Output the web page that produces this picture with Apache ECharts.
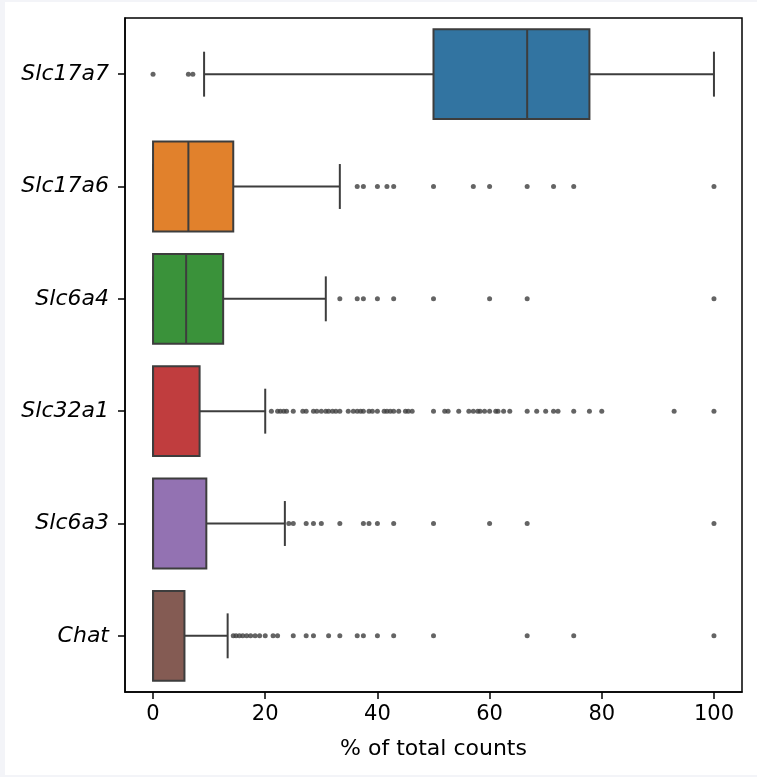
<!DOCTYPE html>
<html>
<head>
<meta charset="utf-8">
<script src="https://cdn.jsdelivr.net/npm/echarts@6/dist/echarts.min.js"></script>
<style>
  html, body { margin: 0; padding: 0; background: #f3f4f8; }
  #chart { position: absolute; left: 5px; top: 2px; width: 752px; height: 773px; background: #fff; }
</style>
</head>
<body>
<div id="chart"></div>
<script>
var genes = ['Slc17a7', 'Slc17a6', 'Slc6a4', 'Slc32a1', 'Slc6a3', 'Chat'];
var boxColors = ['#3274a1', '#e1812c', '#3a923a', '#c03d3e', '#9372b2', '#845b53'];

// box statistics (% of total counts)
var whiskerLow = [9.1, 0, 0, 0, 0, 0];
var q1 = [50, 0, 0, 0, 0, 0];
var median = [66.7, 6.3, 5.9, 0, 0, 0];
var q3 = [77.8, 14.3, 12.5, 8.3, 9.5, 5.6];
var whiskerHigh = [100, 33.3, 30.8, 20, 23.5, 13.3];

// outliers per gene
var outSlc17a7 = [0, 6.3, 7.1];
var outSlc17a6 = [36.4, 37.5, 40, 41.7, 42.9, 50, 57.1, 60, 66.7, 71.4, 75, 100];
var outSlc6a4 = [33.3, 36.4, 37.5, 40, 42.9, 50, 60, 66.7, 100];
var outSlc32a1 = [21.1, 22.2, 22.7, 23.3, 23.8, 25.0, 26.7, 27.3, 28.6, 29.2, 30.0, 30.8, 31.3, 32.0,
    32.6, 33.3, 34.8, 35.7, 36.4, 37.0, 37.5, 38.5, 39.1, 40.0, 41.2, 41.7, 42.3, 42.9, 43.8, 45.0,
    45.5, 46.2, 50.0, 52.0, 52.6, 54.5, 56.3, 57.1, 57.9, 58.3, 59.1, 60.0, 61.1, 61.5, 62.5, 63.6,
    66.7, 68.4, 70.0, 71.4, 72.2, 75.0, 77.8, 80.0, 92.9, 100];
var outSlc6a3 = [24.2, 25, 27.3, 28.6, 30, 33.3, 37.5, 38.5, 40, 42.9, 50, 60, 66.7, 100];
var outChat = [14.3, 14.8, 15.4, 16.0, 16.7, 17.4, 18.2, 19.0, 20.0, 21.4, 22.2, 25.0, 27.3, 28.6,
    31.3, 33.3, 36.4, 37.5, 40.0, 42.9, 50.0, 66.7, 75.0, 100];

var xTicks = [0, 20, 40, 60, 80, 100];

var outliers = [outSlc17a7, outSlc17a6, outSlc6a4, outSlc32a1, outSlc6a3, outChat];

var boxData = genes.map(function (g, i) {
    return [i, whiskerLow[i], q1[i], median[i], q3[i], whiskerHigh[i]];
});
var pointData = [];
outliers.forEach(function (arr, i) {
    arr.forEach(function (v) { pointData.push([v, i]); });
});

var edge = '#3d3d3d';
var font = 'DejaVu Sans';

var renderBox = function (params, api) {
    var idx = api.value(0);
    var band = api.size([0, 1])[1];
    var half = band * 0.4;
    var cap = band * 0.2;
    var pLow = api.coord([api.value(1), idx]);
    var pQ1 = api.coord([api.value(2), idx]);
    var pMed = api.coord([api.value(3), idx]);
    var pQ3 = api.coord([api.value(4), idx]);
    var pHigh = api.coord([api.value(5), idx]);
    var cy = pQ1[1];
    var line = { stroke: edge, lineWidth: 2 };
    return {
        type: 'group',
        children: [
            { type: 'line', shape: { x1: pLow[0], y1: cy, x2: pQ1[0], y2: cy }, style: line },
            { type: 'line', shape: { x1: pQ3[0], y1: cy, x2: pHigh[0], y2: cy }, style: line },
            { type: 'line', shape: { x1: pLow[0], y1: cy - cap, x2: pLow[0], y2: cy + cap }, style: line },
            { type: 'line', shape: { x1: pHigh[0], y1: cy - cap, x2: pHigh[0], y2: cy + cap }, style: line },
            {
                type: 'rect',
                shape: { x: pQ1[0], y: cy - half, width: pQ3[0] - pQ1[0], height: half * 2 },
                style: { fill: boxColors[idx], stroke: edge, lineWidth: 2 }
            },
            { type: 'line', shape: { x1: pMed[0], y1: cy - half, x2: pMed[0], y2: cy + half }, style: line }
        ]
    };
};

var dom = document.getElementById('chart');
var myChart = echarts.init(dom);
var option = {
    animation: false,
    grid: {
        left: 120,
        right: 15,
        top: 16,
        bottom: 83,
        show: true,
        borderColor: '#000',
        borderWidth: 1.5,
        backgroundColor: '#fff'
    },
    xAxis: {
        type: 'value',
        min: -5,
        max: 105,
        name: '% of total counts',
        nameLocation: 'middle',
        nameGap: 46,
        nameTextStyle: { color: '#000', fontSize: 22, fontFamily: font },
        splitLine: { show: false },
        axisLine: { show: true, onZero: false, lineStyle: { color: '#000', width: 1.5 } },
        axisTick: { show: true, length: 7, customValues: xTicks, lineStyle: { color: '#000', width: 1.5 } },
        axisLabel: { customValues: xTicks, color: '#000', fontSize: 21, fontFamily: font, margin: 12 }
    },
    yAxis: {
        type: 'category',
        data: genes,
        inverse: true,
        axisLine: { show: true, onZero: false, lineStyle: { color: '#000', width: 1.5 } },
        axisTick: { show: true, length: 7, alignWithLabel: true, lineStyle: { color: '#000', width: 1.5 } },
        axisLabel: { color: '#000', fontSize: 22, fontStyle: 'italic', fontFamily: font, margin: 16 },
        splitLine: { show: false }
    },
    series: [
        {
            type: 'custom',
            renderItem: renderBox,
            encode: { x: [1, 2, 3, 4, 5], y: 0 },
            data: boxData,
            z: 2
        },
        {
            type: 'scatter',
            data: pointData,
            symbol: 'circle',
            symbolSize: 5,
            itemStyle: { color: edge },
            z: 3
        }
    ]
};
if (option && typeof option === 'object') {
    myChart.setOption(option, true);
}
</script>
</body>
</html>
